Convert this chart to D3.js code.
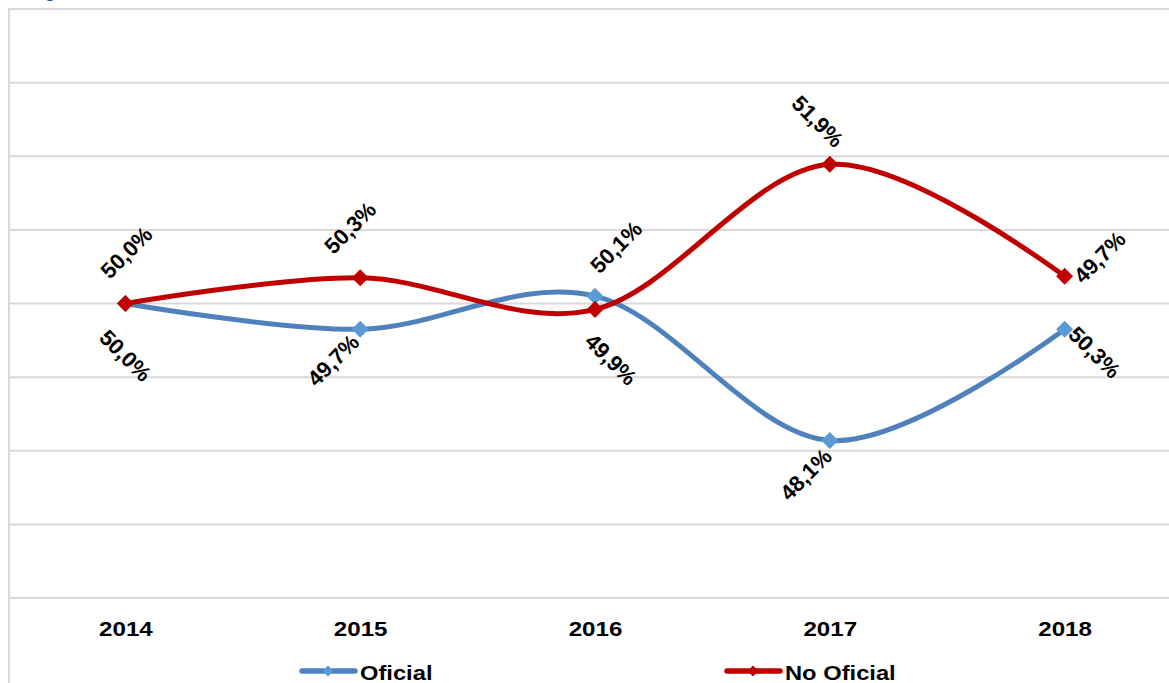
<!DOCTYPE html>
<html>
<head>
<meta charset="utf-8">
<script src="https://cdn.jsdelivr.net/npm/d3@7"></script>
<style>
  body { margin: 0; background: #fff; }
  svg { display: block; font-family: "Liberation Sans", Arial, sans-serif; }
  .grid line { stroke: #d9d9d9; stroke-width: 2; }
  .x.axis text { font-size: 21px; font-weight: bold; fill: #000; }
  .lbl { font-size: 22px; font-weight: bold; fill: #000; }
  .legend text { font-size: 21px; font-weight: bold; fill: #000; }
</style>
</head>
<body>
<script>
// data
var years = ["2014", "2015", "2016", "2017", "2018"]
var oficial = [50.0, 49.65, 50.1, 48.14, 49.65]
var noOficial = [50.0, 50.35, 49.92, 51.89, 50.37]
var oficialLabels = ["50,0%", "49,7%", "50,1%", "48,1%", "50,3%"]
var noOficialLabels = ["50,0%", "50,3%", "49,9%", "51,9%", "49,7%"]
var yTicks = [46, 47, 48, 49, 50, 51, 52, 53, 54]

// where excel's data labels ended up, relative to each point [dx, dy, angle]
var oficialLabelPos = [[0, 52, 45], [-27, 31, -45], [21, -49, -45], [-24, 34, -45], [30, 23, 45]]
var noOficialLabelPos = [[1, -51, -45], [-10, -50, -45], [16, 50, 45], [-12, -43, 45], [35, -19, -45]]

var W = 1169, H = 683
var stretch = 1.15   // the source picture is a bit wider than tall

var svg = d3.select("body").append("svg")
    .attr("width", W)
    .attr("height", H)

// cut-off title at the very top
svg.append("text")
    .attr("x", 30).attr("y", -2)
    .style("font-size", "17px").style("font-weight", "bold")
    .style("fill", "#2f5597")
    .text("Fig")

var x = d3.scalePoint().domain(years).range([8, 1182]).padding(0.5)
var y = d3.scaleLinear().domain([46, 54]).range([598, 9])

// gridlines
svg.append("g").attr("class", "grid")
  .selectAll("line")
    .data(yTicks).enter()
  .append("line")
    .attr("x1", 9).attr("x2", W)
    .attr("y1", function(d){ return y(d) })
    .attr("y2", function(d){ return y(d) })

// left border
svg.append("line")
    .attr("x1", 9).attr("x2", 9)
    .attr("y1", y(54) - 1).attr("y2", H)
    .style("stroke", "#d9d9d9").style("stroke-width", 2)

var xAxis = d3.axisBottom(x).tickSize(0).tickPadding(0)
svg.append("g")
    .attr("class", "x axis")
    .attr("transform", "translate(0," + y(46) + ")")
    .call(xAxis)
  .call(function(g){ g.select(".domain").remove() })
  .selectAll("text")
    .attr("y", 38)
    .attr("dy", null)
    .attr("transform", "scale(" + stretch + ",1)")

var line = d3.line()
    .x(function(d, i){ return x(years[i]) })
    .y(function(d){ return y(d) })
    .curve(d3.curveCardinal.tension(0))

function diamond(r){
  return "M0," + (-r) + "L" + r + ",0L0," + r + "L" + (-r) + ",0Z"
}

var series = [
  {name: "Oficial", values: oficial, labels: oficialLabels, pos: oficialLabelPos, line: "#4f81bd", marker: "#5b9bd5"},
  {name: "No Oficial", values: noOficial, labels: noOficialLabels, pos: noOficialLabelPos, line: "#c00000", marker: "#c00000"}
]

series.forEach(function(s){
  svg.append("path")
      .datum(s.values)
      .attr("d", line)
      .style("fill", "none")
      .style("stroke", s.line)
      .style("stroke-width", 5)

  svg.append("g").selectAll("path")
      .data(s.values).enter()
    .append("path")
      .attr("d", diamond(8.5))
      .attr("transform", function(d, i){ return "translate(" + x(years[i]) + "," + y(d) + ")" })
      .style("fill", s.marker)
})

series.forEach(function(s){
  svg.append("g").selectAll("text")
      .data(s.values).enter()
    .append("text")
      .attr("class", "lbl")
      .attr("text-anchor", "middle")
      .attr("dy", "0.35em")
      .attr("transform", function(d, i){
        var p = s.pos[i]
        return "translate(" + (x(years[i]) + p[0]) + "," + (y(d) + p[1]) + ") rotate(" + p[2] + ")"
      })
      .text(function(d, i){ return s.labels[i] })
})

// legend
var legendX = [300, 725]
var leg = svg.append("g").attr("class", "legend")
  .selectAll("g")
    .data(series).enter()
  .append("g")
    .attr("transform", function(d, i){ return "translate(" + legendX[i] + ",671)" })

leg.append("line")
    .attr("x1", 2).attr("x2", 55)
    .style("stroke", function(d){ return d.line })
    .style("stroke-width", 5.5)
    .style("stroke-linecap", "round")
leg.append("path")
    .attr("d", diamond(5.5))
    .attr("transform", "translate(28,0)")
    .style("fill", function(d){ return d.marker })
leg.append("text")
    .attr("transform", "translate(60,9) scale(" + (stretch - 0.02) + ",1)")
    .text(function(d){ return d.name })
</script>
</body>
</html>
